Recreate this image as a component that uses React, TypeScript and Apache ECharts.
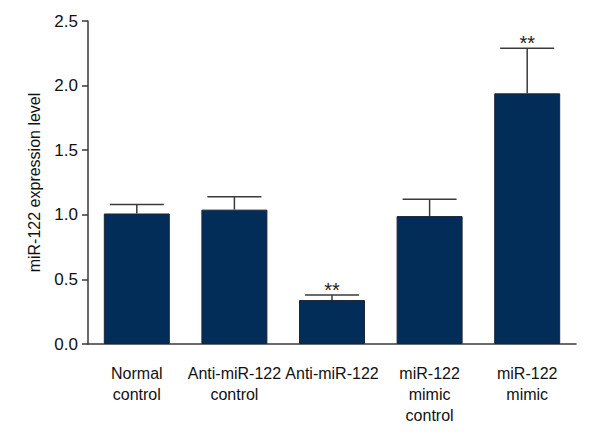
import React, { useEffect, useRef } from "react";
import * as echarts from "echarts";

const categories = ["Normal\ncontrol", "Anti-miR-122\ncontrol", "Anti-miR-122", "miR-122\nmimic\ncontrol", "miR-122\nmimic"];
const means = [1.01, 1.04, 0.34, 0.99, 1.94];
const errors = [0.07, 0.10, 0.04, 0.13, 0.35];
const significance = ["", "", "**", "", "**"];
const yTicks = [0, 0.5, 1.0, 1.5, 2.0, 2.5];

const FONT = "Liberation Sans, Arial, sans-serif";
const INK = "#3a3a3a";
const BAR = "#032d59";

export default function App() {
  const ref = useRef<HTMLDivElement>(null);
  useEffect(() => {
    if (!ref.current) return;
    const chart = echarts.init(ref.current, null, { renderer: "svg" });
    const errData = means.map((m, i) => [i, m, m + errors[i], significance[i]]);
    chart.setOption({
      animation: false,
      backgroundColor: "#ffffff",
      grid: { left: 88, right: 24, top: 21, bottom: 96 },
      xAxis: {
        type: "category",
        data: categories,
        axisLine: { lineStyle: { color: INK, width: 1.5 } },
        axisTick: { alignWithLabel: true, length: 15, lineStyle: { color: INK, width: 1.5 } },
        axisLabel: { color: "#111", fontFamily: FONT, fontSize: 16, lineHeight: 21, margin: 19, interval: 0 },
      },
      yAxis: {
        type: "value",
        min: yTicks[0],
        max: yTicks[yTicks.length - 1],
        interval: 0.5,
        name: "miR-122 expression level",
        nameLocation: "middle",
        nameGap: 46,
        nameTextStyle: { color: "#111", fontFamily: FONT, fontSize: 16 },
        splitLine: { show: false },
        axisLine: { show: true, lineStyle: { color: INK, width: 1.5 } },
        axisTick: { show: true, length: 6, lineStyle: { color: INK, width: 1.5 } },
        axisLabel: {
          color: "#111",
          fontFamily: FONT,
          fontSize: 17,
          margin: 10,
          formatter: (v: number) => v.toFixed(1),
        },
      },
      series: [
        {
          type: "bar",
          data: means,
          barWidth: 66,
          itemStyle: { color: BAR, borderColor: "#1b2433", borderWidth: 1 },
          z: 2,
        },
        {
          type: "custom",
          data: errData,
          z: 3,
          renderItem: (params: any, api: any) => {
            const x = api.value(0);
            const lo = api.coord([x, api.value(1)]);
            const hi = api.coord([x, api.value(2)]);
            const sig = significance[params.dataIndex];
            const half = 27;
            const children: any[] = [
              { type: "line", shape: { x1: lo[0], y1: lo[1], x2: hi[0], y2: hi[1] }, style: { stroke: INK, lineWidth: 1.5 } },
              { type: "line", shape: { x1: hi[0] - half, y1: hi[1], x2: hi[0] + half, y2: hi[1] }, style: { stroke: INK, lineWidth: 1.5 } },
            ];
            if (sig) {
              children.push({
                type: "text",
                x: hi[0],
                y: hi[1] + 5,
                style: { text: sig, fill: "#222", font: `20px ${FONT}`, align: "center", verticalAlign: "bottom" },
              });
            }
            return { type: "group", children };
          },
        },
      ],
    });
    return () => chart.dispose();
  }, []);
  return <div ref={ref} style={{ width: 600, height: 440, position: "absolute", left: 0, top: 0 }} />;
}
